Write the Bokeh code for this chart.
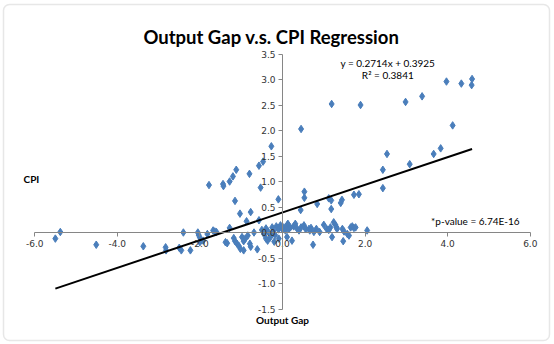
from bokeh.plotting import figure
from bokeh.models import LinearAxis, FixedTicker, NumeralTickFormatter, Label, BoxAnnotation, Range1d
from bokeh.embed import file_html
from bokeh.resources import INLINE

title_text = "Output Gap v.s. CPI Regression"
x_label = "Output Gap"
y_label = "CPI"
eq_text = "y = 0.2714x + 0.3925"
r2_text = "R\u00b2 = 0.3841"
p_text = "*p-value = 6.74E-16"
slope = 0.2714
intercept = 0.3925

x_ticks = [-6.0, -4.0, -2.0, 0.0, 2.0, 4.0, 6.0]
y_ticks = [-1.5, -1.0, -0.5, 0.0, 0.5, 1.0, 1.5, 2.0, 2.5, 3.0, 3.5]

# output gap (x) values
output_gap = [
    -5.50, -5.38, -4.51, -3.37, -2.83, -2.82, -2.50, -2.45, -2.40, -2.23,
    -2.05, -2.03, -2.00, -2.00, -1.92, -1.82, -1.68, -1.64, -1.60,
    -1.78, -1.44, -1.43, -1.28, -1.20, -1.12, -0.80, -0.57, -0.47, -0.27, -0.53,
    -1.15, -0.10, -1.03, -0.77, -0.87, -0.57,
    -1.28, -1.38, -1.34, -1.18, -1.15, -1.10, -1.06, -0.98, -0.94, -0.90,
    -1.02, -0.94, -0.79, -0.77, -0.84, -0.61, -0.69,
    -0.50, -0.45, -0.40, -0.35, -0.30, -0.25, -0.22, -0.18, -0.15, -0.10,
    -0.36, -0.25, -0.09, -0.40, -0.20,
    -0.05, -0.01, 0.03, 0.07, 0.11, 0.13, 0.15, 0.19, 0.27, 0.31, 0.34, 0.40,
    0.45, 0.52, 0.56, 0.64, 0.66, 0.69, 0.76, 0.82, 0.90, 1.00, 1.07, 1.12,
    1.16, 1.24, 1.28, 1.31, 1.32, 1.45, 1.49, 1.57, 1.65, 1.69, 1.73, 1.77, 2.05,
    0.23, 0.74, 1.20, 1.47, 1.61, 0.11,
    0.53, 0.53, 0.44, 0.84, 1.12, 1.18, 1.18, 1.41, 1.44, 1.73, 1.85,
    0.45, 1.19, 1.89, 2.98, 3.38, 3.97, 4.33, 4.58, 4.59, 4.12,
    3.83, 3.66, 3.08, 2.53, 2.43, 2.43,
]

# CPI (y) values
cpi = [
    -0.12, 0.01, -0.24, -0.27, -0.29, -0.35, -0.30, -0.35, 0.00, -0.35,
    0.00, -0.05, -0.10, -0.19, -0.16, -0.03, 0.04, 0.02, 0.01,
    0.93, 0.95, 0.91, 1.00, 1.10, 1.23, 1.15, 1.31, 1.39, 1.69, 0.88,
    0.62, 0.65, 0.37, 0.40, 0.22, 0.24,
    0.09, -0.19, -0.21, -0.11, -0.17, -0.22, -0.26, -0.09, -0.17, -0.12,
    -0.32, -0.35, -0.22, -0.28, -0.06, -0.33, 0.00,
    0.05, -0.03, 0.08, 0.02, -0.10, 0.10, 0.03, -0.05, 0.12, 0.06,
    -0.16, -0.03, -0.12, -0.12, -0.18,
    0.14, 0.07, 0.10, 0.04, 0.14, 0.17, 0.07, 0.10, 0.12, 0.17, 0.09, 0.04,
    0.10, 0.14, 0.07, 0.07, 0.04, 0.09, 0.01, 0.07, 0.01, 0.15, 0.07, 0.05,
    0.10, 0.20, 0.15, 0.10, 0.07, 0.07, 0.02, -0.03, 0.10, 0.12, 0.09, 0.10, 0.04,
    -0.16, -0.24, -0.09, -0.17, -0.06, -0.09,
    0.80, 0.68, 0.44, 0.56, 0.67, 0.63, 0.46, 0.58, 0.64, 0.74, 0.75,
    2.03, 2.52, 2.50, 2.56, 2.67, 2.96, 2.92, 2.89, 3.01, 2.10,
    1.65, 1.54, 1.34, 1.54, 1.23, 0.87,
]

W, H = 554, 344
# frame spans the whole canvas: 41.3 px per x unit (x=0 at px 282), 51 px per y unit (y=0 at px 232)
p = figure(width=W, height=H, output_backend="svg", toolbar_location=None,
           x_range=Range1d(-282 / 41.3, (W - 282) / 41.3),
           y_range=Range1d((232 - H) / 51.0, 232 / 51.0),
           x_axis_location=None, y_axis_location=None,
           min_border_left=0, min_border_right=0, min_border_top=0, min_border_bottom=0)
p.grid.visible = False
p.outline_line_color = None
p.background_fill_color = "white"
p.border_fill_color = "white"

grey = "#868686"
xa = LinearAxis(fixed_location=0, ticker=FixedTicker(ticks=x_ticks),
                formatter=NumeralTickFormatter(format="0.0"), bounds=(-6, 6))
ya = LinearAxis(fixed_location=0, ticker=FixedTicker(ticks=y_ticks),
                formatter=NumeralTickFormatter(format="0.0"), bounds=(-1.5, 3.5))
for ax in (xa, ya):
    ax.axis_line_color = grey
    ax.major_tick_line_color = grey
    ax.minor_tick_line_color = None
    ax.major_tick_out = 4
    ax.major_tick_in = 0
    ax.major_label_text_font = "DejaVu Sans"
    ax.major_label_text_font_size = "9px"
    ax.major_label_text_color = "#333333"
    ax.major_label_standoff = 3
p.add_layout(xa, "below")
p.add_layout(ya, "left")

p.scatter(output_gap, cpi, marker="diamond", size=7.5, fill_color="#4a7ebb", line_color="#4a7ebb")

lx = [min(output_gap), max(output_gap)]
ly = [slope * v + intercept for v in lx]
p.line(lx, ly, line_color="black", line_width=2)

def lab(x, y, text, align="center", bold=False, size="10px", base="middle"):
    p.add_layout(Label(x=x, y=y, text=text, text_align=align, text_baseline=base,
                       text_font="Lato", text_font_size=size,
                       text_font_style="bold" if bold else "normal", text_color="black"))

lab(-0.27, 3.83, title_text, bold=True, size="18.5px", base="alphabetic")
lab(2.55, 3.32, eq_text)
lab(2.55, 3.08, r2_text)
lab(4.67, 0.22, p_text)
lab(-6.08, 1.04, y_label, bold=True)
lab(0.0, -1.71, x_label, bold=True)

p.add_layout(BoxAnnotation(left=3, right=549, top=4, bottom=340,
                           left_units="canvas", right_units="canvas",
                           top_units="canvas", bottom_units="canvas",
                           fill_color=None, line_color="#b0b0b0", line_width=1.5,
                           border_radius=6))

open("out.html", "w").write(file_html(p, INLINE))
